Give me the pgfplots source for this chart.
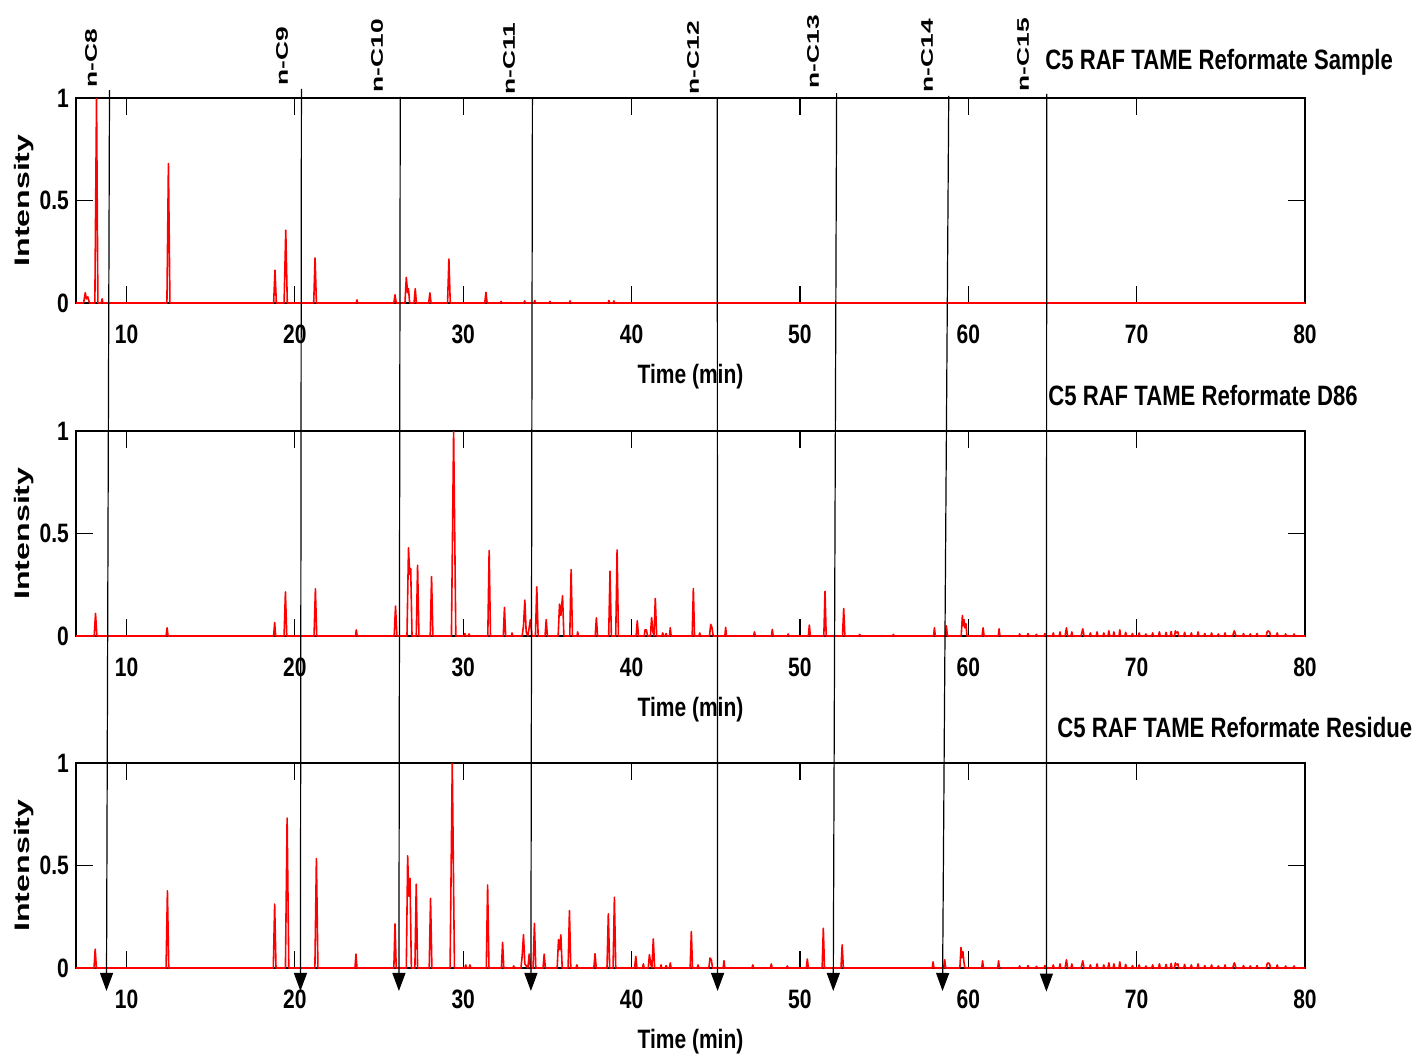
\documentclass[border=0pt]{standalone}
\usepackage{fontspec}
\setmainfont{Liberation Sans}
\newfontfamily\narrowfont[FakeStretch=0.79]{Liberation Sans}
\usepackage{graphicx}
\usepackage{pgfplots}
\usepackage{pgfplotstable}
\pgfplotsset{compat=1.18}
\usetikzlibrary{arrows.meta}

% late-eluting baseline bumps, same in D86 and residue
\pgfplotstableread{
t I
61.9 0
63.00 0
63.05 0.010
63.10 0
63.50 0
63.55 0.012
63.60 0
64.00 0
64.05 0.008
64.10 0
64.50 0
64.55 0.012
64.60 0
65.00 0
65.05 0.015
65.10 0
65.40 0
65.45 0.020
65.50 0
65.75 0
65.83 0.040
65.90 0
66.10 0
66.15 0.020
66.20 0
66.70 0
66.80 0.035
66.88 0
67.20 0
67.25 0.015
67.30 0
67.60 0
67.65 0.020
67.70 0
68.00 0
68.05 0.015
68.10 0
68.30 0
68.35 0.025
68.40 0
68.60 0
68.65 0.020
68.70 0
68.95 0
69.00 0.030
69.05 0
69.30 0
69.35 0.018
69.40 0
69.70 0
69.75 0.012
69.80 0
70.10 0
70.15 0.015
70.20 0
70.50 0
70.55 0.010
70.60 0
70.90 0
70.95 0.015
71.00 0
71.30 0
71.35 0.020
71.40 0
71.70 0
71.75 0.018
71.80 0
72.00 0
72.05 0.022
72.10 0
72.25 0
72.30 0.025
72.35 0.015
72.45 0.020
72.50 0
72.80 0
72.85 0.018
72.90 0
73.20 0
73.25 0.015
73.30 0
73.60 0
73.65 0.020
73.70 0
74.00 0
74.05 0.012
74.10 0
74.40 0
74.45 0.015
74.50 0
74.80 0
74.85 0.010
74.90 0
75.20 0
75.25 0.015
75.30 0
75.70 0
75.80 0.025
75.85 0.015
75.90 0
76.30 0
76.35 0.012
76.40 0
76.70 0
76.75 0.010
76.80 0
77.10 0
77.15 0.012
77.20 0
77.70 0
77.75 0.020
77.80 0.025
77.90 0.020
77.95 0
78.30 0
78.35 0.015
78.40 0
78.80 0
78.85 0.010
78.90 0
79.30 0
79.35 0.010
79.40 0
80.00 0
}\tailpeaks

\pgfplotsset{
  trace/.style={red, line width=0.8pt, line join=round, mark=none},
  chrom/.style={
    scale only axis,
    width=614.5pt, height=102.5pt,
    xmin=7, xmax=80, ymin=0, ymax=1,
    xtick={10,20,...,80}, ytick={0,0.5,1},
    tick align=inside,
    major tick length=8.5pt,
    tick style={black, line width=0.6pt},
    axis line style={line width=0.8pt},
    /pgf/number format/assume math mode=true,
    ticklabel style={font=\narrowfont\bfseries\fontsize{13.3}{14}\selectfont},
    xticklabel style={anchor=base, yshift=-20pt},
    xlabel={Time (min)},
    xlabel style={font=\narrowfont\bfseries\fontsize{13.3}{14}\selectfont,
        at={(axis description cs:0.5,-0.36)}, anchor=center},
    ylabel={\scalebox{1.53}[1]{Intensity}},
    ylabel style={font=\bfseries\fontsize{10.5}{11}\selectfont,
        at={(axis description cs:-0.042,0.5)}, anchor=center},
  }}

\begin{document}
\begin{tikzpicture}
\begin{scope}[x=0.5pt,y=-0.5pt]
\path[use as bounding box] (0,0) rectangle (1414,1055);
\end{scope}

% ---- sample
\begin{axis}[chrom, at={(38pt,-151.5pt)}, anchor=south west]
\addplot[trace] coordinates {
(7,0) (7.45,0) (7.55,0.05) (7.62,0.02) (7.7,0.03) (7.8,0) (8.12,0) (8.22,1) (8.3,0)
(8.5,0) (8.55,0.02) (8.6,0)
(12.4,0) (12.49,0.68) (12.58,0)
(18.74,0) (18.82,0.16) (18.9,0)
(19.36,0) (19.46,0.355) (19.55,0)
(21.12,0) (21.2,0.22) (21.28,0)
(23.65,0) (23.69,0.015) (23.73,0)
(25.88,0) (25.95,0.04) (26.02,0)
(26.54,0) (26.62,0.125) (26.7,0.05) (26.75,0.07) (26.82,0)
(27.08,0) (27.15,0.07) (27.22,0)
(27.95,0) (28.02,0.05) (28.09,0)
(29.07,0) (29.15,0.215) (29.23,0)
(31.28,0) (31.35,0.052) (31.42,0)
(32.2,0) (32.25,0.008) (32.3,0) (33.6,0) (33.65,0.01) (33.7,0)
(34.2,0) (34.25,0.012) (34.3,0) (35.1,0) (35.15,0.008) (35.2,0)
(36.3,0) (36.35,0.01) (36.4,0) (38.6,0) (38.65,0.012) (38.7,0)
(38.9,0) (38.95,0.01) (39,0) (80,0)
};
\coordinate (t8) at (axis cs:8.99,1.039);
\coordinate (t9) at (axis cs:20.39,1.044);
\coordinate (t10) at (axis cs:26.26,1.005);
\coordinate (t11) at (axis cs:34.11,1.0);
\coordinate (t12) at (axis cs:45.09,1.0);
\coordinate (t13) at (axis cs:52.18,1.024);
\coordinate (t14) at (axis cs:58.84,1.01);
\coordinate (t15) at (axis cs:64.66,1.02);
\end{axis}

% ---- D86
\begin{axis}[chrom, at={(38pt,-318pt)}, anchor=south west]
\addplot[trace] coordinates {
(7,0) (8.08,0) (8.16,0.11) (8.24,0)
(12.35,0) (12.41,0.04) (12.47,0)
(18.74,0) (18.8,0.066) (18.86,0)
(19.36,0) (19.44,0.215) (19.52,0)
(21.14,0) (21.22,0.23) (21.3,0)
(23.6,0) (23.65,0.03) (23.7,0)
(25.9,0) (25.98,0.146) (26.06,0)
(26.66,0) (26.75,0.43) (26.82,0.3) (26.88,0.33) (26.96,0)
(27.21,0) (27.29,0.345) (27.37,0)
(28.04,0) (28.12,0.29) (28.2,0)
(29.3,0) (29.43,1) (29.56,0)
(30.05,0) (30.1,0.012) (30.15,0) (30.3,0) (30.35,0.01) (30.4,0)
(31.46,0) (31.54,0.417) (31.62,0)
(32.38,0) (32.45,0.139) (32.52,0)
(32.86,0) (32.9,0.015) (32.94,0)
(33.5,0) (33.58,0.05) (33.66,0.175) (33.74,0.02) (33.84,0) (33.99,0.08) (34.08,0)
(34.29,0) (34.37,0.24) (34.45,0)
(34.86,0) (34.93,0.08) (35.0,0)
(35.64,0) (35.72,0.155) (35.8,0.1) (35.9,0.196) (35.98,0)
(36.33,0) (36.41,0.324) (36.49,0)
(36.76,0) (36.8,0.02) (36.84,0)
(37.84,0) (37.91,0.089) (37.98,0)
(38.64,0) (38.72,0.316) (38.8,0)
(39.06,0) (39.14,0.42) (39.22,0)
(40.27,0) (40.34,0.074) (40.41,0)
(40.75,0) (40.8,0.03) (40.88,0.03) (40.95,0)
(41.12,0) (41.19,0.09) (41.27,0.02) (41.33,0) (41.41,0.183) (41.49,0)
(41.8,0) (41.85,0.015) (41.9,0) (42.0,0) (42.05,0.012) (42.1,0) (42.25,0) (42.3,0.04) (42.35,0)
(43.6,0) (43.67,0.231) (43.74,0)
(44.0,0) (44.05,0.015) (44.1,0)
(44.63,0) (44.7,0.057) (44.78,0.04) (44.85,0)
(45.54,0) (45.59,0.042) (45.64,0)
(47.25,0) (47.3,0.02) (47.35,0)
(48.31,0) (48.36,0.032) (48.41,0)
(49.25,0) (49.3,0.01) (49.35,0)
(50.5,0) (50.56,0.053) (50.62,0)
(51.42,0) (51.49,0.218) (51.56,0)
(52.53,0) (52.6,0.134) (52.67,0)
(53.5,0) (53.55,0.008) (53.6,0) (55.5,0) (55.55,0.008) (55.6,0)
(57.94,0) (57.99,0.04) (58.04,0)
(58.64,0) (58.7,0.05) (58.76,0)
(59.58,0) (59.65,0.1) (59.7,0.05) (59.75,0.08) (59.8,0.04) (59.86,0.06) (59.92,0)
(60.82,0) (60.88,0.04) (60.94,0)
(61.78,0) (61.83,0.035) (61.88,0)
};
\addplot[trace] table {\tailpeaks};
\end{axis}

% ---- residue
\begin{axis}[chrom, at={(38pt,-484pt)}, anchor=south west]
\addplot[trace] coordinates {
(7,0) (8.07,0) (8.14,0.092) (8.21,0)
(12.35,0) (12.43,0.377) (12.51,0)
(18.72,0) (18.8,0.312) (18.88,0)
(19.44,0) (19.54,0.731) (19.64,0)
(21.19,0) (21.28,0.534) (21.37,0)
(23.57,0) (23.63,0.068) (23.69,0)
(25.88,0) (25.95,0.215) (26.02,0)
(26.62,0) (26.7,0.547) (26.77,0.35) (26.84,0.437) (26.92,0)
(27.13,0) (27.21,0.409) (27.29,0)
(27.98,0) (28.06,0.34) (28.14,0)
(29.22,0) (29.35,1) (29.48,0)
(30.1,0) (30.15,0.015) (30.2,0) (30.35,0) (30.4,0.015) (30.45,0)
(31.37,0) (31.45,0.405) (31.53,0)
(32.27,0) (32.34,0.125) (32.41,0)
(32.95,0) (33.0,0.01) (33.05,0)
(33.43,0) (33.5,0.057) (33.58,0.162) (33.66,0.02) (33.84,0) (33.92,0.068) (34.0,0)
(34.15,0) (34.23,0.218) (34.31,0)
(34.74,0) (34.81,0.068) (34.88,0)
(35.58,0) (35.66,0.138) (35.73,0.09) (35.8,0.162) (35.88,0)
(36.23,0) (36.31,0.28) (36.39,0)
(36.7,0) (36.75,0.015) (36.8,0)
(37.76,0) (37.83,0.07) (37.9,0)
(38.54,0) (38.62,0.264) (38.7,0)
(38.9,0) (38.98,0.345) (39.06,0)
(40.18,0) (40.25,0.057) (40.32,0)
(40.65,0) (40.7,0.02) (40.75,0)
(40.99,0) (41.06,0.065) (41.14,0.02) (41.21,0) (41.29,0.142) (41.37,0)
(41.7,0) (41.75,0.015) (41.8,0) (42.0,0) (42.05,0.012) (42.1,0) (42.25,0) (42.3,0.025) (42.35,0)
(43.48,0) (43.55,0.178) (43.62,0)
(43.9,0) (43.95,0.015) (44.0,0)
(44.59,0) (44.66,0.049) (44.74,0.04) (44.81,0)
(45.44,0) (45.49,0.036) (45.54,0)
(47.15,0) (47.2,0.015) (47.25,0)
(48.25,0) (48.3,0.02) (48.35,0)
(49.2,0) (49.25,0.01) (49.3,0)
(50.38,0) (50.44,0.044) (50.5,0)
(51.32,0) (51.39,0.194) (51.46,0)
(52.44,0) (52.51,0.113) (52.58,0)
(57.86,0) (57.91,0.03) (57.96,0)
(58.54,0) (58.6,0.04) (58.66,0)
(59.5,0) (59.57,0.1) (59.62,0.05) (59.68,0.08) (59.74,0.03) (59.8,0)
(60.8,0) (60.85,0.035) (60.9,0)
(61.75,0) (61.8,0.035) (61.85,0)
};
\addplot[trace] table {\tailpeaks};
\coordinate (b8) at (axis cs:8.81,-0.112);
\coordinate (b9) at (axis cs:20.33,-0.112);
\coordinate (b10) at (axis cs:26.18,-0.112);
\coordinate (b11) at (axis cs:34.02,-0.112);
\coordinate (b12) at (axis cs:45.11,-0.112);
\coordinate (b13) at (axis cs:51.98,-0.112);
\coordinate (b14) at (axis cs:58.47,-0.112);
\coordinate (b15) at (axis cs:64.64,-0.115);
\end{axis}

% n-alkane markers
\foreach \c in {8,9,...,15}{
  \draw[line width=0.6pt, -{Triangle[width=6.5pt,length=9pt]}] (t\c) -- (b\c);
}

\begin{scope}[x=0.5pt,y=-0.5pt, every node/.style={rotate=90, anchor=west, inner sep=0pt,
    font=\bfseries\fontsize{8.4}{9}\selectfont}]
\node at (91,88) {\scalebox{1.57}[1]{n-C8}};
\node at (282,86) {\scalebox{1.57}[1]{n-C9}};
\node at (377,93) {\scalebox{1.57}[1]{n-C10}};
\node at (509,95) {\scalebox{1.57}[1]{n-C11}};
\node at (693,95) {\scalebox{1.57}[1]{n-C12}};
\node at (813,89) {\scalebox{1.57}[1]{n-C13}};
\node at (927,93) {\scalebox{1.57}[1]{n-C14}};
\node at (1023,92) {\scalebox{1.57}[1]{n-C15}};
\end{scope}

\begin{scope}[x=0.5pt,y=-0.5pt, every node/.style={anchor=west, inner sep=0pt,
    font=\narrowfont\bfseries\fontsize{14}{15}\selectfont}]
\node at (1045,62) {C5 RAF TAME Reformate Sample};
\node at (1048,395) {C5 RAF TAME Reformate D86};
\node at (1057,727) {C5 RAF TAME Reformate Residue};
\end{scope}
\end{tikzpicture}
\end{document}
